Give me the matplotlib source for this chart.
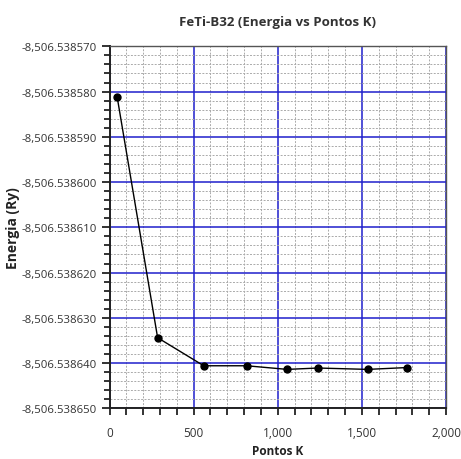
import matplotlib
matplotlib.use("Agg")
import matplotlib.pyplot as plt
from matplotlib.ticker import MultipleLocator, FuncFormatter

plt.rcParams['font.family'] = ['Open Sans', 'DejaVu Sans']

# k-point convergence for FeTi-B32
pontos_k = [46, 286, 560, 815, 1056, 1239, 1534, 1766]
energia = [-8506.5385813, -8506.5386344, -8506.5386406, -8506.5386406,
           -8506.5386414, -8506.5386411, -8506.5386414, -8506.5386410]

fig = plt.figure(figsize=(4.61, 4.60), dpi=100)
ax = fig.add_axes([109.5 / 461, 1 - 409.3 / 460, (446 - 109.5) / 461, (409.3 - 47.3) / 460])

ax.plot(pontos_k, energia, color='black', lw=1.0, marker='o', ms=5, zorder=3)

ax.set_xlim(0, 2000)
ax.set_ylim(-8506.538650, -8506.538570)
ax.xaxis.set_major_locator(MultipleLocator(500))
ax.xaxis.set_minor_locator(MultipleLocator(100))
ax.yaxis.set_major_locator(MultipleLocator(1e-5))
ax.yaxis.set_minor_locator(MultipleLocator(2e-6))
ax.xaxis.set_major_formatter(FuncFormatter(lambda v, p: f"{v:,.0f}"))
ax.yaxis.set_major_formatter(FuncFormatter(lambda v, p: f"{v:,.6f}"))

ax.grid(which='major', color='#1f1fcc', lw=1.1, ls='-')
ax.grid(which='minor', color='#aaaaaa', lw=0.7, ls=(0, (2, 1.5)))
ax.set_axisbelow(True)

ax.tick_params(which='both', direction='out', color='#333333', width=1.4, labelcolor='#333333')
ax.tick_params(axis='y', which='major', length=6, labelsize=8.2, pad=3)
ax.tick_params(axis='y', which='minor', length=4)
ax.tick_params(axis='x', which='both', length=5, labelsize=8.5, pad=8)
for side in ['left', 'bottom']:
    ax.spines[side].set_color('#222222')
    ax.spines[side].set_linewidth(1.4)
for side in ['top', 'right']:
    ax.spines[side].set_color('#555555')
    ax.spines[side].set_linewidth(1.0)

ax.set_title('FeTi-B32 (Energia vs Pontos K)', fontsize=9.5, fontweight='bold', color='#333333', pad=15)
ax.set_xlabel('Pontos K', fontsize=8.5, fontweight='bold', color='#222222', labelpad=3)
ax.set_ylabel('Energia (Ry)', fontsize=10, fontweight='bold', color='#222222', labelpad=1)

fig.savefig('out.png', dpi=100)
